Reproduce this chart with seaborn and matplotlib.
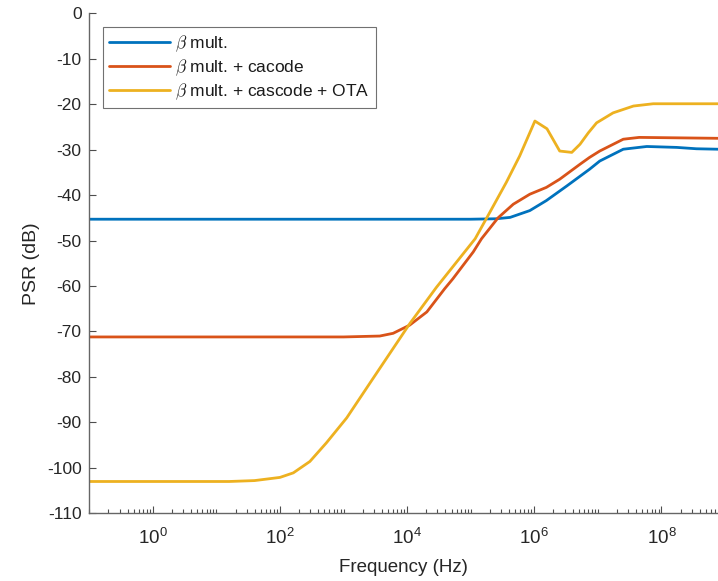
import numpy as np
import pandas as pd
import matplotlib
matplotlib.use("Agg")
import matplotlib.pyplot as plt
from matplotlib.ticker import (FixedLocator, LogLocator, NullFormatter,
                               LogFormatterMathtext)
import seaborn as sns

# PSR curves: frequency given as log10(Hz), PSR in dB
beta_logf = [-1, 5.0, 5.4, 5.62, 5.93, 6.19, 6.51, 6.87, 7.03, 7.40, 7.77,
             8.24, 8.55, 8.89]
beta_psr = [-45.3, -45.3, -45.2, -44.9, -43.4, -41.2, -38.0, -34.3, -32.5,
            -29.9, -29.3, -29.5, -29.8, -29.9]

cas_logf = [-1, 3.0, 3.57, 3.78, 4.04, 4.31, 4.59, 4.72, 5.04, 5.17, 5.43,
            5.67, 5.93, 6.19, 6.40, 6.72, 6.87, 7.03, 7.40, 7.65, 8.89]
cas_psr = [-71.2, -71.2, -71.0, -70.4, -68.6, -65.7, -60.6, -58.4, -52.5,
           -49.6, -45.0, -42.0, -39.8, -38.3, -36.5, -33.2, -31.7, -30.3,
           -27.7, -27.3, -27.5]

ota_logf = [-1, 1.2, 1.6, 2.0, 2.21, 2.47, 2.73, 3.05, 3.47, 4.04, 4.46, 5.07,
            5.30, 5.56, 5.77, 6.01, 6.20, 6.40, 6.59, 6.72, 6.85, 6.98, 7.24,
            7.56, 7.87, 8.89]
ota_psr = [-103.0, -103.0, -102.8, -102.1, -101.1, -98.6, -94.5, -89.0, -80.2,
           -68.3, -60.3, -49.6, -43.8, -37.2, -31.4, -23.7, -25.4, -30.3,
           -30.6, -28.8, -26.3, -24.1, -21.9, -20.4, -19.9, -19.9]

series_names = [r"$\beta$ mult.",
                r"$\beta$ mult. + cacode",
                r"$\beta$ mult. + cascode + OTA"]
colors = ["#0072BD", "#D95319", "#EDB120"]

x_major = [1e0, 1e2, 1e4, 1e6, 1e8]
y_major = list(range(-110, 1, 10))

frames = []
for name, lf, psr in zip(series_names,
                         [beta_logf, cas_logf, ota_logf],
                         [beta_psr, cas_psr, ota_psr]):
    frames.append(pd.DataFrame({"freq": 10.0 ** np.array(lf),
                                "psr": psr, "series": name}))
df = pd.concat(frames, ignore_index=True)

sns.set_theme(style="ticks")
plt.rcParams["font.family"] = ["Liberation Sans", "DejaVu Sans"]
plt.rcParams["axes.unicode_minus"] = False
plt.rcParams["mathtext.fontset"] = "custom"
plt.rcParams["mathtext.rm"] = "Liberation Sans"
plt.rcParams["mathtext.it"] = "Liberation Sans:italic"

fig = plt.figure(figsize=(7.18, 5.81), dpi=100)
ax = fig.add_axes([0.1243, 0.1165, 0.8757, 0.8606])

sns.lineplot(data=df, x="freq", y="psr", hue="series", palette=colors,
             hue_order=series_names, linewidth=2.0, ax=ax, sort=False,
             estimator=None)

ax.set_xscale("log")
ax.set_xlim(0.1, 10 ** 8.89)
ax.set_ylim(-110, 0)
ax.set_yticks(y_major)

ax.xaxis.set_major_locator(FixedLocator(x_major))
ax.xaxis.set_major_formatter(LogFormatterMathtext(base=10.0))
ax.xaxis.set_minor_locator(LogLocator(base=10.0, subs=np.arange(1, 10), numticks=100))
ax.xaxis.set_minor_formatter(NullFormatter())

ax.tick_params(axis="both", which="major", direction="in", length=5,
               width=0.8, color="0.3", labelsize=12.5, labelcolor="0.15")
ax.tick_params(axis="x", which="major", labelsize=13.5)
ax.tick_params(axis="x", which="minor", direction="in", length=3,
               width=0.8, color="0.3")
ax.tick_params(axis="x", which="major", pad=10.5)
ax.tick_params(axis="y", which="major", pad=5.5)

for side in ["top", "right"]:
    ax.spines[side].set_visible(False)
for side in ["left", "bottom"]:
    ax.spines[side].set_color("0.4")
    ax.spines[side].set_linewidth(1.0)

ax.set_xlabel("Frequency (Hz)", fontsize=13.5, color="0.15", labelpad=8)
ax.set_ylabel("PSR (dB)", fontsize=14, color="0.15", labelpad=5)

handles, labels = ax.get_legend_handles_labels()
leg = ax.legend(handles, labels, loc="upper left", fontsize=12.5,
                frameon=True, fancybox=False, edgecolor="0.3",
                borderaxespad=0.8, handlelength=3.5, handletextpad=0.3,
                labelspacing=0.2, borderpad=0.35)
leg.get_frame().set_linewidth(0.8)
for txt in leg.get_texts():
    txt.set_math_fontfamily("cm")
    txt.set_color("0.1")

fig.savefig("out.png", dpi=100)
